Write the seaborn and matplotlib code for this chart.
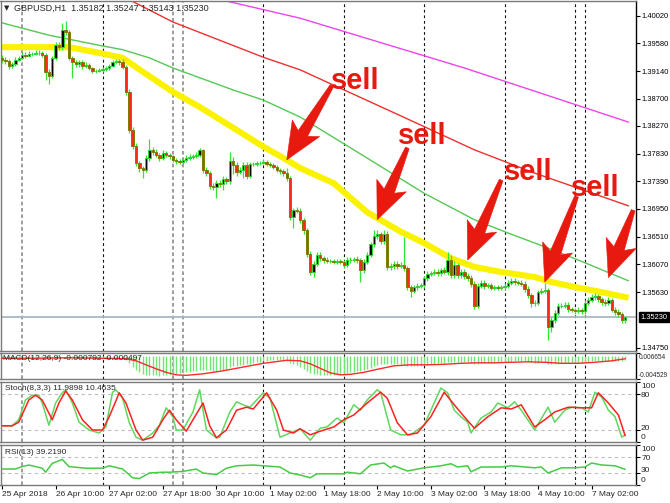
import numpy as np
import pandas as pd
import seaborn as sns
import matplotlib
matplotlib.use("Agg")
import matplotlib.pyplot as plt
from matplotlib.patches import Polygon
from matplotlib.transforms import IdentityTransform, blended_transform_factory

# ---------------- data ----------------
first_open = 1.3935
closes = [
    1.3932, 1.3930, 1.3922, 1.3925, 1.3932, 1.3935, 1.3940, 1.3938, 1.3941, 1.3941,
    1.3943, 1.3943, 1.3940, 1.3913, 1.3906, 1.3935, 1.3955, 1.3952, 1.3979, 1.3976,
    1.3935, 1.3928, 1.3925, 1.3928, 1.3922, 1.3924, 1.3919, 1.3914, 1.3914, 1.3916,
    1.3917, 1.3919, 1.3922, 1.3928, 1.3930, 1.3928, 1.3921, 1.3881, 1.3820, 1.3795,
    1.3768, 1.3760, 1.3757, 1.3776, 1.3789, 1.3786, 1.3781, 1.3776, 1.3784, 1.3781,
    1.3779, 1.3773, 1.3771, 1.3770, 1.3773, 1.3776, 1.3778, 1.3779, 1.3781, 1.3789,
    1.3757, 1.3752, 1.3732, 1.3730, 1.3736, 1.3735, 1.3743, 1.3739, 1.3771, 1.3765,
    1.3754, 1.3757, 1.3765, 1.3747, 1.3766, 1.3766, 1.3768, 1.3768, 1.3770, 1.3766,
    1.3765, 1.3762, 1.3757, 1.3755, 1.3752, 1.3744, 1.3682, 1.3693, 1.3692, 1.3678,
    1.3662, 1.3624, 1.3595, 1.3608, 1.3622, 1.3617, 1.3614, 1.3612, 1.3612, 1.3611,
    1.3612, 1.3611, 1.3606, 1.3614, 1.3614, 1.3616, 1.3614, 1.3598, 1.3611, 1.3622,
    1.3639, 1.3652, 1.3655, 1.3644, 1.3655, 1.3603, 1.3604, 1.3608, 1.3604, 1.3606,
    1.3601, 1.3571, 1.3565, 1.3571, 1.3573, 1.3574, 1.3585, 1.3592, 1.3593, 1.3595,
    1.3593, 1.3598, 1.3595, 1.3614, 1.3590, 1.3606, 1.3590, 1.3595, 1.3589, 1.3585,
    1.3576, 1.3541, 1.3573, 1.3578, 1.3573, 1.3574, 1.3570, 1.3571, 1.3570, 1.3571,
    1.3573, 1.3578, 1.3581, 1.3579, 1.3578, 1.3576, 1.3568, 1.3558, 1.3546, 1.3546,
    1.3563, 1.3565, 1.3566, 1.3508, 1.3519, 1.3530, 1.3541, 1.3541, 1.3543, 1.3536,
    1.3535, 1.3533, 1.3535, 1.3533, 1.3546, 1.3551, 1.3555, 1.3557, 1.3552, 1.3547,
    1.3546, 1.3551, 1.3535, 1.3531, 1.3528, 1.35182, 1.35230]
highs = [
    1.3939, 1.3936, 1.3933, 1.3929, 1.3936, 1.3938, 1.3944, 1.3945, 1.3946, 1.3945,
    1.3948, 1.3947, 1.3946, 1.3943, 1.3918, 1.3938, 1.3960, 1.3960, 1.3990, 1.3993,
    1.3980, 1.3938, 1.3932, 1.3932, 1.3931, 1.3928, 1.3927, 1.3921, 1.3918, 1.3919,
    1.3920, 1.3922, 1.3926, 1.3932, 1.3933, 1.3933, 1.3933, 1.3924, 1.3885, 1.3826,
    1.3800, 1.3772, 1.3764, 1.3780, 1.3806, 1.3793, 1.3790, 1.3784, 1.3788, 1.3787,
    1.3784, 1.3781, 1.3776, 1.3775, 1.3777, 1.3780, 1.3782, 1.3783, 1.3785, 1.3792,
    1.3791, 1.3761, 1.3756, 1.3736, 1.3741, 1.3741, 1.3747, 1.3746, 1.3786, 1.3778,
    1.3770, 1.3762, 1.3769, 1.3769, 1.3770, 1.3770, 1.3771, 1.3772, 1.3774, 1.3773,
    1.3770, 1.3768, 1.3765, 1.3760, 1.3758, 1.3760, 1.3747, 1.3697, 1.3698, 1.3696,
    1.3681, 1.3665, 1.3628, 1.3612, 1.3626, 1.3626, 1.3620, 1.3618, 1.3616, 1.3615,
    1.3615, 1.3615, 1.3614, 1.3618, 1.3618, 1.3619, 1.3620, 1.3617, 1.3615, 1.3626,
    1.3643, 1.3662, 1.3661, 1.3659, 1.3662, 1.3660, 1.3610, 1.3612, 1.3612, 1.3611,
    1.3650, 1.3604, 1.3575, 1.3575, 1.3577, 1.3578, 1.3589, 1.3596, 1.3597, 1.3599,
    1.3599, 1.3602, 1.3603, 1.3627, 1.3622, 1.3612, 1.3610, 1.3600, 1.3600, 1.3593,
    1.3590, 1.3580, 1.3578, 1.3583, 1.3582, 1.3578, 1.3578, 1.3575, 1.3575, 1.3575,
    1.3577, 1.3582, 1.3585, 1.3585, 1.3583, 1.3582, 1.3580, 1.3572, 1.3562, 1.3551,
    1.3567, 1.3569, 1.3578, 1.3570, 1.3524, 1.3535, 1.3546, 1.3546, 1.3548, 1.3547,
    1.3540, 1.3538, 1.3539, 1.3538, 1.3550, 1.3555, 1.3560, 1.3562, 1.3560, 1.3556,
    1.3552, 1.3555, 1.3554, 1.3539, 1.3536, 1.3532, 1.35247]
lows = [
    1.3927, 1.3926, 1.3918, 1.3919, 1.3922, 1.3930, 1.3933, 1.3935, 1.3936, 1.3938,
    1.3939, 1.3939, 1.3937, 1.3900, 1.3894, 1.3903, 1.3931, 1.3948, 1.3948, 1.3972,
    1.3931, 1.3903, 1.3920, 1.3921, 1.3918, 1.3919, 1.3915, 1.3911, 1.3911, 1.3912,
    1.3913, 1.3914, 1.3916, 1.3920, 1.3925, 1.3924, 1.3917, 1.3876, 1.3815, 1.3790,
    1.3763, 1.3754, 1.3744, 1.3753, 1.3772, 1.3781, 1.3777, 1.3771, 1.3773, 1.3777,
    1.3775, 1.3769, 1.3767, 1.3766, 1.3767, 1.3770, 1.3773, 1.3775, 1.3776, 1.3778,
    1.3752, 1.3747, 1.3727, 1.3725, 1.3712, 1.3730, 1.3725, 1.3735, 1.3735, 1.3750,
    1.3748, 1.3751, 1.3745, 1.3743, 1.3744, 1.3763, 1.3764, 1.3765, 1.3766, 1.3763,
    1.3761, 1.3759, 1.3754, 1.3751, 1.3748, 1.3740, 1.3678, 1.3665, 1.3688, 1.3673,
    1.3656, 1.3618, 1.3590, 1.3587, 1.3604, 1.3613, 1.3610, 1.3609, 1.3609, 1.3607,
    1.3608, 1.3607, 1.3601, 1.3603, 1.3610, 1.3611, 1.3610, 1.3579, 1.3594, 1.3607,
    1.3618, 1.3635, 1.3648, 1.3640, 1.3640, 1.3598, 1.3598, 1.3600, 1.3600, 1.3601,
    1.3597, 1.3566, 1.3555, 1.3561, 1.3567, 1.3569, 1.3570, 1.3581, 1.3589, 1.3590,
    1.3589, 1.3589, 1.3591, 1.3590, 1.3585, 1.3586, 1.3585, 1.3586, 1.3584, 1.3580,
    1.3571, 1.3536, 1.3537, 1.3569, 1.3568, 1.3569, 1.3566, 1.3566, 1.3566, 1.3566,
    1.3567, 1.3569, 1.3574, 1.3575, 1.3574, 1.3572, 1.3563, 1.3553, 1.3540, 1.3541,
    1.3542, 1.3560, 1.3561, 1.3487, 1.3500, 1.3514, 1.3526, 1.3537, 1.3538, 1.3532,
    1.3531, 1.3529, 1.3530, 1.3529, 1.3529, 1.3542, 1.3547, 1.3551, 1.3548, 1.3543,
    1.3541, 1.3542, 1.3531, 1.3527, 1.3523, 1.3514, 1.35143]
opens = [first_open] + closes[:-1]

# moving averages (bar index, price)
ma_yellow_idx = [-1, 20, 29, 36, 42, 51, 59, 69, 78, 85, 89, 99, 109, 119, 126, 134, 141, 149, 159, 164, 172, 179, 187]
ma_yellow_val = [1.3952, 1.3952, 1.3943, 1.3935, 1.3913, 1.3881, 1.3857, 1.3824, 1.3794, 1.3773, 1.3760, 1.3736,
                 1.3690, 1.3659, 1.3641, 1.3617, 1.3603, 1.3595, 1.3587, 1.3579, 1.3570, 1.3563, 1.3554]
ma_green_idx = [-1, 14, 29, 36, 44, 51, 69, 78, 89, 105, 126, 141, 151, 163, 172, 187]
ma_green_val = [1.3992, 1.3971, 1.3955, 1.3948, 1.3935, 1.3919, 1.3884, 1.3868, 1.3841, 1.3789, 1.3720,
                1.3678, 1.3657, 1.3633, 1.3614, 1.3581]
ma_red_idx = [37, 51, 78, 89, 119, 141, 159, 172, 187]
ma_red_val = [1.4030, 1.3992, 1.3936, 1.3916, 1.3843, 1.3789, 1.3752, 1.3728, 1.3700]
ma_magenta_idx = [60, 68, 89, 138, 187]
ma_magenta_val = [1.4032, 1.4024, 1.3998, 1.3919, 1.3833]

last_price = 1.35230
price_ticks = [1.40020, 1.39580, 1.39140, 1.38700, 1.38270, 1.37830, 1.37390,
               1.36950, 1.36510, 1.36070, 1.35630, 1.34750]

# MACD(12,26,9): main histogram per bar (x1e-4), signal line
macd_main = [
    -4, -4, -5, -5, -4, -4, -3, -3, -3, -3, -2, -2, -2,
    -4, -6, -5, -3, -1, 1, 1,
    -1, -2, -3, -3, -4, -4, -5, -5, -6, -6, -6, -6, -5, -5, -4, -4, -5,
    -8, -14, -21, -27, -32, -36, -37, -37, -38, -38, -39, -38, -38, -37,
    -36, -35, -34, -33, -32, -31, -30, -29, -28, -27, -28, -28, -29, -29, -28, -27, -25,
    -22, -20, -19, -18, -17, -16, -15, -13, -12, -11, -10, -9, -8, -8, -8, -8, -8, -9,
    -13, -16, -18, -21, -25, -29, -33, -35, -36, -37, -37, -37, -37, -37, -36, -36,
    -35, -33, -32, -31, -30, -29, -28, -26, -23, -20, -17, -16, -15, -15, -16, -16, -16, -16, -17,
    -19, -20, -20, -20, -20, -18, -17, -16, -15, -14, -14, -13, -11, -12, -11, -12, -12, -12, -12, -13,
    -15, -15, -14, -14, -13, -13, -13, -12, -12, -12, -11, -11, -10, -10, -10, -10, -11, -12, -13, -13, -12, -12,
    -15, -16, -16, -15, -14, -14, -14, -14, -14, -14, -14, -13, -12, -10, -9, -9, -9, -9, -9, -10, -10, -9, -9, -7.92]
macd_sig_idx = [0, 10, 20, 30, 37, 40, 43, 46, 49, 52, 55, 60, 65, 70, 78, 85, 89, 92, 95, 98, 101, 104, 108,
                112, 117, 122, 127, 132, 137, 142, 147, 152, 157, 162, 167, 172, 177, 182, 186]
macd_sig_val = [-4, -4, -3, -4, -5, -9, -17, -25, -32, -37, -38, -35, -30, -24, -14, -8, -9, -15, -24, -33,
                -37, -36, -32, -26, -19, -17, -17, -16, -14, -13, -13, -12, -11, -12, -14, -14, -12, -9, -4.97]
macd_top, macd_bottom = 0.000654, -0.004529
macd_label_text = ["0.006654", "-0.004529"]
macd_label_pos = [-0.00016, -0.0038]

# Stochastic(8,3,3)
stoch_k_idx = [0, 3, 5, 7, 9, 11, 12, 14, 16, 18, 19, 21, 23, 26, 29, 31, 33, 34, 36, 38, 40, 42, 45, 47, 49,
               51, 52, 54, 57, 59, 61, 64, 65, 68, 70, 72, 74, 78, 80, 83, 86, 89, 92, 95, 97, 100, 102, 105,
               107, 109, 112, 113, 116, 119, 122, 126, 129, 131, 133, 135, 137, 139, 140, 143, 146, 148, 151,
               153, 155, 159, 163, 165, 168, 170, 173, 175, 177, 179, 181, 183, 185, 186]
stoch_k_val = [27, 27, 37, 70, 78, 78, 65, 28, 65, 82, 87, 65, 33, 20, 15, 25, 83, 87, 73, 32, 8, 3, 15, 28, 57,
               42, 20, 20, 50, 87, 20, 7, 8, 50, 67, 62, 58, 82, 73, 8, 15, 22, 3, 23, 25, 40, 32, 62,
               53, 70, 87, 83, 20, 12, 12, 28, 65, 90, 82, 53, 42, 33, 15, 40, 50, 65, 57,
               67, 53, 20, 58, 33, 53, 58, 57, 50, 83, 75, 53, 42, 8, 11.99]
stoch_d_idx = [0, 3, 5, 8, 10, 12, 15, 17, 19, 21, 24, 27, 30, 32, 35, 37, 40, 42, 45, 48, 50, 52, 55, 57, 60,
               62, 64, 67, 70, 73, 75, 79, 82, 84, 87, 89, 92, 95, 99, 102, 105, 109, 113, 115, 118, 121, 124,
               128, 132, 135, 138, 141, 145, 149, 152, 155, 159, 162, 165, 169, 173, 176, 178, 181, 184, 186]
stoch_d_val = [27, 27, 33, 70, 78, 70, 37, 65, 85, 70, 37, 20, 20, 42, 82, 65, 20, 3, 8, 37, 53, 37, 18, 37, 65,
               27, 7, 20, 53, 58, 55, 82, 53, 20, 15, 22, 12, 18, 25, 37, 45, 65, 83, 73, 32, 12, 15,
               42, 83, 62, 42, 23, 42, 57, 55, 62, 25, 37, 50, 58, 57, 57, 82, 65, 45, 10.46]
stoch_levels = [80, 20]
stoch_label_text = ["100", "80", "20", "0"]
stoch_label_pos = [92, 77, 23, 8]

# RSI(13)
rsi_idx = [0, 4, 6, 8, 12, 13, 15, 18, 20, 25, 30, 32, 36, 39, 41, 44, 48, 50, 54, 58, 60, 64, 67, 70, 75, 78,
           83, 86, 89, 92, 94, 102, 103, 107, 110, 114, 116, 117, 121, 126, 131, 134, 136, 139, 140, 143,
           149, 152, 159, 161, 163, 167, 171, 174, 176, 179, 183, 186]
rsi_val = [40, 40, 46, 50, 42, 32, 54, 64, 46, 42, 42, 48, 40, 18, 16, 30, 32, 32, 34, 40, 30, 26, 42, 48, 50, 48,
           45, 30, 25, 18, 28, 28, 32, 28, 50, 55, 43, 48, 35, 43, 48, 53, 45, 48, 33, 45,
           45, 48, 43, 45, 30, 43, 43, 45, 55, 50, 48, 39.22]
rsi_levels = [70, 30]
rsi_label_text = ["100", "70", "30", "0"]
rsi_label_pos = [88, 66, 35, 12]

# time axis
tick_idx = [0, 16, 32, 48, 64, 80, 96, 112, 128, 144, 160, 176]
tick_labels = ["25 Apr 2018", "26 Apr 10:00", "27 Apr 02:00", "27 Apr 18:00", "30 Apr 10:00", "1 May 02:00",
               "1 May 18:00", "2 May 10:00", "3 May 02:00", "3 May 18:00", "4 May 10:00", "7 May 02:00"]
sep_gray_idx = [6, 51, 54]
sep_black_idx = [30, 78, 102, 126, 150, 171, 174]

# "sell" annotations: arrow tip (bar, price), arrow tail (bar, price), text (bar, price)
arrow_tip_idx = [85, 112, 139, 162, 181]
arrow_tip_val = [1.3773, 1.3678, 1.3614, 1.3579, 1.3586]
arrow_tail_idx = [98.5, 121, 149, 171.5, 188.4]
arrow_tail_val = [1.3891, 1.3792, 1.3741, 1.3715, 1.3693]
sell_idx = [105.4, 125.4, 157.0, 177.0]
sell_val = [1.3898, 1.3811, 1.3754, 1.3728]

# ---------------- drawing ----------------
sns.set_theme(style="white")
plt.rcParams['font.family'] = ['Liberation Sans', 'DejaVu Sans']
AXIS_FONT = ['Liberation Sans', 'DejaVu Sans']

W, H = 670, 503
fig = plt.figure(figsize=(W / 100, H / 100), dpi=100)
fig.patch.set_facecolor("white")


def rect(x0, y0, x1, y1):
    return [x0 / W, 1 - y1 / H, (x1 - x0) / W, (y1 - y0) / H]


ax = fig.add_axes(rect(0.5, 0.5, 636, 351))
ax_m = fig.add_axes(rect(0.5, 353, 636, 379), sharex=ax)
ax_s = fig.add_axes(rect(0.5, 382, 636, 442), sharex=ax)
ax_r = fig.add_axes(rect(0.5, 445, 636, 485), sharex=ax)
axes = [ax, ax_m, ax_s, ax_r]

RED = "#e8190e"
idx = np.arange(len(closes))
o = np.array(opens)
c = np.array(closes)
hi = np.array(highs)
lo = np.array(lows)
up = c >= o
body_lo = np.minimum(o, c)
body_h = np.maximum(np.abs(c - o), 0.00005)

for a in axes:
    a.set_facecolor("white")
    for s in ["top", "bottom", "left"]:
        a.spines[s].set_color("#7a7a7a")
        a.spines[s].set_linewidth(1.0)
    a.spines["right"].set_color("black")
    a.spines["right"].set_linewidth(1.0)
    for xi in sep_gray_idx:
        a.axvline(xi, color="#8c8c8c", lw=1.2, ls=(0, (2.2, 1.6)), zorder=1)
    for xi in sep_black_idx:
        a.axvline(xi, color="#111111", lw=0.8, ls=(0, (2.5, 2.5)), zorder=1)

# moving averages
sns.lineplot(x=ma_magenta_idx, y=ma_magenta_val, ax=ax, color="#ee44ee", lw=1.0, zorder=2)
sns.lineplot(x=ma_red_idx, y=ma_red_val, ax=ax, color="#f03030", lw=1.0, zorder=2)
sns.lineplot(x=ma_green_idx, y=ma_green_val, ax=ax, color="#55c855", lw=1.0, zorder=2)
sns.lineplot(x=ma_yellow_idx, y=ma_yellow_val, ax=ax, color="#fbf200", lw=4.4, zorder=2,
             solid_capstyle="butt")
ax.axhline(last_price, color="#aab6c3", lw=1.3, zorder=1.5)

# candles
ax.vlines(idx, lo, hi, color="#33e533", lw=0.9, zorder=3)
ax.bar(idx[up], body_h[up], bottom=body_lo[up], width=0.72, color="#060606",
       edgecolor="#2fd82f", linewidth=0.7, zorder=4)
ax.bar(idx[~up], body_h[~up], bottom=body_lo[~up], width=0.72, color="#ff2a1a",
       edgecolor="#7d7d00", linewidth=0.7, zorder=4)

ax.set_xlim(-0.45, 189.25)
ax.set_ylim(1.34695, 1.40261)
ax.yaxis.tick_right()
ax.set_yticks(price_ticks)
ax.set_yticklabels([f"{v:.5f}" for v in price_ticks])

# MACD
ax_m.vlines(idx, 0, np.array(macd_main) * 1e-4, color="#74e474", lw=1.0, zorder=2)
sns.lineplot(x=macd_sig_idx, y=np.array(macd_sig_val) * 1e-4, ax=ax_m, color="#ff2a2a", lw=1.0, zorder=3)
ax_m.set_ylim(macd_bottom, macd_top)
ax_m.yaxis.tick_right()
ax_m.set_yticks([macd_top, macd_bottom])
ax_m.set_yticklabels([])

# Stochastic
for lvl in stoch_levels:
    ax_s.axhline(lvl, color="#bdbdbd", lw=0.8, ls=(0, (3, 3)), zorder=1)
sns.lineplot(x=stoch_k_idx, y=stoch_k_val, ax=ax_s, color="#5fd85f", lw=1.1, zorder=3)
sns.lineplot(x=stoch_d_idx, y=stoch_d_val, ax=ax_s, color="#ff2020", lw=1.1, zorder=3)
ax_s.set_ylim(0, 100)
ax_s.yaxis.tick_right()
ax_s.set_yticks([100] + stoch_levels + [0])
ax_s.set_yticklabels([])

# RSI
for lvl in rsi_levels:
    ax_r.axhline(lvl, color="#bdbdbd", lw=0.8, ls=(0, (3, 3)), zorder=1)
sns.lineplot(x=rsi_idx, y=rsi_val, ax=ax_r, color="#45cc45", lw=1.1, zorder=3)
ax_r.set_ylim(0, 100)
ax_r.yaxis.tick_right()
ax_r.set_yticks([100] + rsi_levels + [0])
ax_r.set_yticklabels([])

for a in axes:
    a.set_xlabel("")
    a.set_ylabel("")
    a.tick_params(axis="y", right=True, left=False, length=3, width=0.8, color="black",
                  pad=1.2, labelsize=5.4, labelcolor="black")
    if a is not ax_r:
        a.tick_params(axis="x", bottom=False, labelbottom=False)
    if a.get_legend() is not None:
        a.get_legend().remove()

# indicator scale labels (placed as in the terminal window)
for a, texts, pos, fs, x0 in ((ax_s, stoch_label_text, stoch_label_pos, 6.0, 1.008),
                              (ax_r, rsi_label_text, rsi_label_pos, 6.0, 1.008),
                              (ax_m, macd_label_text, macd_label_pos, 4.7, 1.004)):
    trb = blended_transform_factory(a.transAxes, a.transData)
    for txt, p in zip(texts, pos):
        a.text(x0, p, txt, transform=trb, fontsize=fs, va="center", ha="left",
               family=AXIS_FONT, clip_on=False)

ax_r.set_xticks(tick_idx)
ax_r.set_xticklabels(tick_labels)
ax_r.tick_params(axis="x", bottom=True, length=3, width=0.8, color="black", pad=1.5, labelsize=6)
for t in ax_r.get_xticklabels():
    t.set_ha("left")

# current price box
tr = blended_transform_factory(ax.transAxes, ax.transData)
ax.text(1.0075, last_price, "1.35230", transform=tr, fontsize=5.4, color="white", va="center", ha="left",
        family=AXIS_FONT,
        bbox=dict(boxstyle="square,pad=0.18", fc="black", ec="black"), zorder=10, clip_on=False)

# sell arrows
fig.canvas.draw()


def draw_arrow(a, tip, tail):
    T = a.transData.transform(tip)
    B = a.transData.transform(tail)
    d = T - B
    d = d / np.hypot(*d)
    n = np.array([-d[1], d[0]])
    hl, hw, notch, sw, tw = 31.0, 16.0, 6.0, 5.5, 2.0
    Hb = T - d * hl
    pts = [B + n * tw, Hb + n * sw, Hb - d * notch + n * hw, T,
           Hb - d * notch - n * hw, Hb - n * sw, B - n * tw]
    p = Polygon(pts, closed=True, fc=RED, ec=RED, lw=0.4, transform=IdentityTransform(), zorder=8)
    a.add_artist(p)


for ti, tv, bi, bv in zip(arrow_tip_idx, arrow_tip_val, arrow_tail_idx, arrow_tail_val):
    draw_arrow(ax, (ti, tv), (bi, bv))

for si, sv in zip(sell_idx, sell_val):
    ax.text(si, sv, "sell", color=RED, fontsize=21, fontweight="bold", ha="center", va="center",
            family=["Liberation Sans", "DejaVu Sans"], zorder=9)

# header texts
fig.text(4 / W, 1 - 8 / H, "\u25BC", fontsize=5, va="center", ha="left", family=["DejaVu Sans"])
fig.text(14 / W, 1 - 8 / H, "GBPUSD,H1  1.35182 1.35247 1.35143 1.35230", fontsize=6.5,
         va="center", ha="left")
fig.text(3 / W, 1 - 359 / H, "MACD(12,26,9) -0.000792 -0.000497", fontsize=6, va="center", ha="left")
fig.text(5 / W, 1 - 389 / H, "Stoch(8,3,3) 11.9898 10.4635", fontsize=6, va="center", ha="left")
fig.text(5 / W, 1 - 452 / H, "RSI(13) 39.2190", fontsize=6, va="center", ha="left")

fig.savefig("out.png", dpi=100, facecolor="white")
